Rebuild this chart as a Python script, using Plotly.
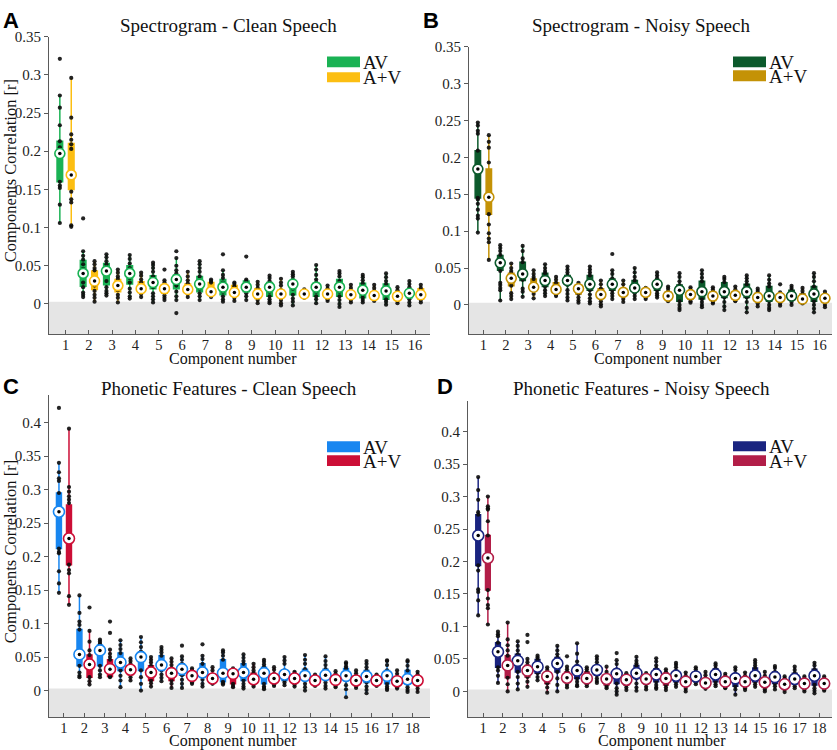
import plotly.graph_objects as go

W, H = 837, 750
SERIF = "Liberation Serif, Times New Roman, serif"
SANS = "Liberation Sans, Arial, sans-serif"
AXC = "#5a5a5a"

# ---------------- categories / tick labels ----------------
comp16 = ["1", "2", "3", "4", "5", "6", "7", "8", "9", "10", "11", "12", "13", "14", "15", "16"]
comp18 = ["1", "2", "3", "4", "5", "6", "7", "8", "9", "10", "11", "12", "13", "14", "15", "16", "17", "18"]
yt_035 = [0, 0.05, 0.1, 0.15, 0.2, 0.25, 0.3, 0.35]
yt_035_lbl = ["0", "0.05", "0.1", "0.15", "0.2", "0.25", "0.3", "0.35"]
yt_040 = [0, 0.05, 0.1, 0.15, 0.2, 0.25, 0.3, 0.35, 0.4]
yt_040_lbl = ["0", "0.05", "0.1", "0.15", "0.2", "0.25", "0.3", "0.35", "0.4"]

# ---------------- Panel A: Spectrogram - Clean Speech ----------------
A_AV_med = [0.197, 0.040, 0.043, 0.040, 0.028, 0.032, 0.026, 0.022, 0.022, 0.022, 0.026, 0.022, 0.022, 0.018, 0.017, 0.014]
A_AV_q1 = [0.160, 0.023, 0.025, 0.026, 0.020, 0.020, 0.016, 0.012, 0.016, 0.010, 0.012, 0.010, 0.010, 0.008, 0.006, 0.008]
A_AV_q3 = [0.213, 0.057, 0.053, 0.050, 0.037, 0.038, 0.036, 0.032, 0.030, 0.028, 0.030, 0.027, 0.032, 0.027, 0.026, 0.017]
A_AV_lo = [0.106, 0.009, 0.011, 0.007, 0.002, 0.005, 0.005, 0.003, 0.005, 0.001, -0.002, 0.001, -0.004, 0.002, -0.001, -0.002]
A_AV_hi = [0.273, 0.069, 0.065, 0.064, 0.054, 0.060, 0.056, 0.044, 0.032, 0.037, 0.042, 0.051, 0.043, 0.038, 0.040, 0.030]
A_AV_dots = [
    [0.321, 0.273, 0.257, 0.234, 0.213, 0.205, 0.160, 0.155, 0.152, 0.130, 0.106],
    [0.112, 0.069, 0.063, 0.058, 0.052, 0.046, 0.028, 0.022, 0.015, 0.012, 0.009],
    [0.065, 0.061, 0.056, 0.052, 0.047, 0.030, 0.022, 0.017, 0.014, 0.011],
    [0.064, 0.059, 0.053, 0.047, 0.034, 0.028, 0.020, 0.015, 0.010, 0.007],
    [0.054, 0.051, 0.047, 0.042, 0.036, 0.022, 0.014, 0.010, 0.006, 0.002],
    [0.069, 0.060, 0.050, 0.044, 0.040, 0.024, 0.016, 0.010, 0.005, -0.012],
    [0.056, 0.052, 0.047, 0.042, 0.036, 0.020, 0.014, 0.010, 0.005],
    [0.065, 0.044, 0.038, 0.034, 0.028, 0.016, 0.010, 0.006, 0.003],
    [0.062, 0.032, 0.030, 0.026, 0.018, 0.014, 0.010, 0.005],
    [0.037, 0.034, 0.030, 0.028, 0.016, 0.010, 0.006, 0.003, 0.001],
    [0.042, 0.039, 0.036, 0.032, 0.020, 0.012, 0.007, 0.003, -0.002],
    [0.051, 0.045, 0.038, 0.032, 0.028, 0.016, 0.010, 0.006, 0.001],
    [0.043, 0.040, 0.036, 0.030, 0.016, 0.010, 0.005, 0.000, -0.004],
    [0.038, 0.035, 0.031, 0.027, 0.012, 0.008, 0.005, 0.002],
    [0.040, 0.035, 0.030, 0.026, 0.012, 0.006, 0.003, -0.001],
    [0.030, 0.026, 0.022, 0.017, 0.010, 0.006, 0.002, -0.002],
]
A_AplusV_med = [0.169, 0.030, 0.024, 0.020, 0.020, 0.019, 0.016, 0.015, 0.013, 0.013, 0.013, 0.013, 0.012, 0.011, 0.010, 0.012]
A_AplusV_q1 = [0.150, 0.019, 0.016, 0.015, 0.014, 0.015, 0.014, 0.011, 0.007, 0.009, 0.010, 0.009, 0.008, 0.008, 0.007, 0.006]
A_AplusV_q3 = [0.210, 0.043, 0.032, 0.029, 0.025, 0.026, 0.028, 0.024, 0.020, 0.018, 0.016, 0.016, 0.016, 0.016, 0.014, 0.020]
A_AplusV_lo = [0.101, 0.003, 0.002, 0.009, 0.005, 0.009, 0.009, 0.004, 0.001, -0.002, 0.008, 0.004, 0.002, 0.004, 0.001, 0.002]
A_AplusV_hi = [0.296, 0.056, 0.045, 0.041, 0.031, 0.042, 0.032, 0.028, 0.029, 0.033, 0.019, 0.024, 0.025, 0.025, 0.022, 0.025]
A_AplusV_dots = [
    [0.296, 0.244, 0.222, 0.215, 0.209, 0.203, 0.147, 0.137, 0.133, 0.103, 0.101],
    [0.056, 0.052, 0.047, 0.044, 0.024, 0.017, 0.012, 0.008, 0.003],
    [0.045, 0.041, 0.036, 0.033, 0.018, 0.012, 0.008, 0.002],
    [0.041, 0.037, 0.032, 0.028, 0.016, 0.013, 0.009],
    [0.045, 0.031, 0.028, 0.025, 0.015, 0.011, 0.008, 0.005],
    [0.042, 0.036, 0.031, 0.027, 0.016, 0.013, 0.009],
    [0.032, 0.030, 0.028, 0.014, 0.012, 0.009],
    [0.028, 0.026, 0.023, 0.012, 0.008, 0.004],
    [0.029, 0.025, 0.021, 0.008, 0.005, 0.001],
    [0.033, 0.028, 0.024, 0.018, 0.009, 0.005, 0.001, -0.002],
    [0.019, 0.017, 0.015, 0.011, 0.008],
    [0.024, 0.020, 0.017, 0.009, 0.006, 0.004],
    [0.025, 0.021, 0.017, 0.008, 0.005, 0.002],
    [0.025, 0.021, 0.017, 0.008, 0.006, 0.004],
    [0.022, 0.018, 0.015, 0.007, 0.004, 0.001],
    [0.025, 0.021, 0.017, 0.008, 0.005, 0.002],
]

# ---------------- Panel B: Spectrogram - Noisy Speech ----------------
B_AV_med = [0.184, 0.057, 0.042, 0.033, 0.033, 0.028, 0.028, 0.023, 0.028, 0.020, 0.018, 0.018, 0.018, 0.012, 0.012, 0.015]
B_AV_q1 = [0.145, 0.047, 0.033, 0.025, 0.028, 0.020, 0.020, 0.020, 0.020, 0.005, 0.008, 0.010, 0.010, 0.005, 0.008, 0.005]
B_AV_q3 = [0.209, 0.067, 0.058, 0.043, 0.040, 0.040, 0.035, 0.033, 0.032, 0.027, 0.032, 0.030, 0.028, 0.025, 0.020, 0.025]
B_AV_lo = [0.098, 0.006, 0.011, 0.012, 0.006, 0.002, 0.008, 0.008, 0.010, -0.007, -0.003, -0.007, -0.010, -0.007, 0.000, -0.010]
B_AV_hi = [0.247, 0.081, 0.080, 0.055, 0.052, 0.052, 0.047, 0.050, 0.044, 0.043, 0.047, 0.038, 0.040, 0.040, 0.026, 0.043]
B_AV_dots = [
    [0.247, 0.243, 0.236, 0.232, 0.209, 0.145, 0.143, 0.137, 0.129, 0.121, 0.117, 0.098],
    [0.081, 0.077, 0.073, 0.068, 0.046, 0.030, 0.027, 0.023, 0.020, 0.006],
    [0.080, 0.073, 0.063, 0.058, 0.034, 0.022, 0.018, 0.011],
    [0.055, 0.050, 0.046, 0.043, 0.025, 0.020, 0.016, 0.012],
    [0.052, 0.048, 0.044, 0.040, 0.027, 0.020, 0.015, 0.010, 0.006],
    [0.052, 0.048, 0.044, 0.040, 0.020, 0.014, 0.009, 0.005, 0.002],
    [0.069, 0.047, 0.042, 0.036, 0.020, 0.016, 0.012, 0.008],
    [0.050, 0.044, 0.038, 0.033, 0.020, 0.016, 0.012, 0.008],
    [0.044, 0.040, 0.036, 0.032, 0.020, 0.016, 0.013, 0.010],
    [0.043, 0.038, 0.032, 0.027, 0.005, 0.000, -0.004, -0.007],
    [0.047, 0.042, 0.037, 0.032, 0.008, 0.004, 0.000, -0.003],
    [0.038, 0.035, 0.031, 0.010, 0.004, -0.002, -0.007],
    [0.040, 0.036, 0.032, 0.028, 0.010, 0.004, -0.004, -0.010],
    [0.040, 0.034, 0.029, 0.025, 0.005, 0.000, -0.004, -0.007],
    [0.026, 0.023, 0.020, 0.008, 0.004, 0.000],
    [0.043, 0.038, 0.032, 0.025, 0.005, 0.000, -0.005, -0.010],
]
B_AplusV_med = [0.146, 0.036, 0.024, 0.021, 0.022, 0.014, 0.017, 0.017, 0.012, 0.014, 0.012, 0.013, 0.010, 0.010, 0.008, 0.009]
B_AplusV_q1 = [0.123, 0.026, 0.020, 0.017, 0.015, 0.010, 0.012, 0.012, 0.008, 0.008, 0.006, 0.008, 0.006, 0.006, 0.005, 0.004]
B_AplusV_q3 = [0.184, 0.043, 0.035, 0.030, 0.027, 0.022, 0.022, 0.021, 0.018, 0.018, 0.018, 0.018, 0.016, 0.014, 0.015, 0.013]
B_AplusV_lo = [0.061, 0.008, 0.009, 0.012, 0.003, -0.002, 0.004, 0.008, 0.005, 0.003, 0.002, 0.005, -0.002, -0.001, 0.002, -0.003]
B_AplusV_hi = [0.230, 0.056, 0.047, 0.038, 0.030, 0.033, 0.033, 0.023, 0.025, 0.024, 0.024, 0.025, 0.022, 0.017, 0.023, 0.018]
B_AplusV_dots = [
    [0.230, 0.221, 0.213, 0.193, 0.123, 0.109, 0.097, 0.090, 0.085, 0.061],
    [0.056, 0.050, 0.046, 0.043, 0.026, 0.016, 0.012, 0.008],
    [0.047, 0.042, 0.038, 0.035, 0.020, 0.015, 0.009],
    [0.038, 0.034, 0.030, 0.017, 0.014, 0.012],
    [0.030, 0.027, 0.015, 0.010, 0.006, 0.003],
    [0.033, 0.028, 0.022, 0.010, 0.005, 0.001, -0.002],
    [0.033, 0.028, 0.022, 0.012, 0.008, 0.004],
    [0.023, 0.021, 0.012, 0.010, 0.008],
    [0.025, 0.022, 0.018, 0.008, 0.006, 0.005],
    [0.024, 0.021, 0.018, 0.008, 0.005, 0.003],
    [0.024, 0.021, 0.018, 0.006, 0.004, 0.002],
    [0.025, 0.021, 0.018, 0.008, 0.006, 0.005],
    [0.022, 0.019, 0.016, 0.006, 0.002, -0.002],
    [0.028, 0.017, 0.014, 0.006, 0.002, -0.001],
    [0.023, 0.019, 0.015, 0.005, 0.003, 0.002],
    [0.018, 0.015, 0.013, 0.004, 0.000, -0.003],
]

# ---------------- Panel C: Phonetic Features - Clean Speech ----------------
C_AV_med = [0.267, 0.054, 0.060, 0.042, 0.050, 0.038, 0.032, 0.027, 0.026, 0.027, 0.026, 0.024, 0.022, 0.023, 0.022, 0.021, 0.022, 0.017]
C_AV_q1 = [0.212, 0.037, 0.037, 0.030, 0.030, 0.030, 0.023, 0.022, 0.013, 0.015, 0.010, 0.015, 0.015, 0.017, 0.015, 0.012, 0.010, 0.010]
C_AV_q3 = [0.295, 0.091, 0.068, 0.056, 0.058, 0.052, 0.040, 0.040, 0.046, 0.040, 0.035, 0.030, 0.032, 0.032, 0.033, 0.030, 0.030, 0.030]
C_AV_lo = [0.146, 0.020, 0.020, 0.005, 0.000, 0.014, 0.004, 0.006, 0.009, 0.003, 0.002, 0.008, 0.000, 0.003, -0.010, -0.004, 0.001, -0.002]
C_AV_hi = [0.340, 0.142, 0.076, 0.075, 0.080, 0.065, 0.051, 0.052, 0.060, 0.054, 0.046, 0.050, 0.053, 0.051, 0.042, 0.044, 0.045, 0.045]
C_AV_dots = [
    [0.422, 0.340, 0.326, 0.317, 0.313, 0.295, 0.212, 0.207, 0.205, 0.178, 0.160, 0.146],
    [0.142, 0.116, 0.103, 0.098, 0.091, 0.037, 0.027, 0.022, 0.020],
    [0.076, 0.073, 0.070, 0.068, 0.037, 0.030, 0.024, 0.020],
    [0.075, 0.068, 0.062, 0.056, 0.030, 0.022, 0.015, 0.005],
    [0.080, 0.072, 0.065, 0.058, 0.030, 0.020, 0.010, 0.000],
    [0.065, 0.061, 0.057, 0.052, 0.030, 0.024, 0.019, 0.014],
    [0.067, 0.051, 0.046, 0.040, 0.023, 0.016, 0.010, 0.004],
    [0.069, 0.052, 0.047, 0.040, 0.022, 0.016, 0.010, 0.006],
    [0.060, 0.057, 0.052, 0.046, 0.013, 0.011, 0.009],
    [0.054, 0.049, 0.044, 0.040, 0.015, 0.010, 0.006, 0.003],
    [0.046, 0.043, 0.039, 0.035, 0.010, 0.006, 0.004, 0.002],
    [0.050, 0.045, 0.040, 0.030, 0.015, 0.012, 0.008],
    [0.053, 0.046, 0.040, 0.032, 0.015, 0.010, 0.005, 0.000],
    [0.051, 0.044, 0.038, 0.032, 0.017, 0.012, 0.007, 0.003],
    [0.042, 0.040, 0.036, 0.033, 0.015, 0.008, 0.002, -0.010],
    [0.044, 0.040, 0.035, 0.030, 0.012, 0.006, 0.001, -0.004],
    [0.045, 0.044, 0.038, 0.030, 0.010, 0.006, 0.003, 0.001],
    [0.045, 0.043, 0.037, 0.030, 0.010, 0.005, 0.001, -0.002],
]
C_AplusV_med = [0.227, 0.039, 0.032, 0.031, 0.027, 0.026, 0.022, 0.018, 0.025, 0.017, 0.018, 0.018, 0.015, 0.016, 0.015, 0.015, 0.014, 0.015]
C_AplusV_q1 = [0.188, 0.020, 0.021, 0.024, 0.015, 0.015, 0.015, 0.012, 0.010, 0.012, 0.012, 0.012, 0.010, 0.010, 0.010, 0.010, 0.008, 0.008]
C_AplusV_q3 = [0.277, 0.053, 0.046, 0.035, 0.037, 0.033, 0.025, 0.024, 0.026, 0.026, 0.025, 0.024, 0.020, 0.022, 0.022, 0.020, 0.020, 0.020]
C_AplusV_lo = [0.128, 0.009, 0.020, 0.015, 0.006, 0.004, 0.010, 0.010, 0.005, 0.006, 0.007, 0.006, 0.007, 0.005, 0.004, 0.007, 0.003, -0.002]
C_AplusV_hi = [0.391, 0.089, 0.061, 0.048, 0.050, 0.048, 0.033, 0.035, 0.033, 0.040, 0.035, 0.028, 0.024, 0.029, 0.030, 0.024, 0.030, 0.028]
C_AplusV_dots = [
    [0.391, 0.304, 0.297, 0.290, 0.285, 0.280, 0.188, 0.180, 0.175, 0.141, 0.128],
    [0.124, 0.089, 0.073, 0.060, 0.053, 0.020, 0.014, 0.009],
    [0.103, 0.086, 0.061, 0.055, 0.050, 0.046, 0.021, 0.020],
    [0.048, 0.044, 0.040, 0.035, 0.024, 0.020, 0.015],
    [0.050, 0.046, 0.042, 0.037, 0.015, 0.011, 0.006],
    [0.048, 0.043, 0.038, 0.033, 0.015, 0.010, 0.004],
    [0.033, 0.030, 0.025, 0.015, 0.012, 0.010],
    [0.035, 0.030, 0.024, 0.012, 0.010],
    [0.033, 0.030, 0.026, 0.010, 0.007, 0.005],
    [0.040, 0.035, 0.030, 0.026, 0.012, 0.009, 0.006],
    [0.035, 0.031, 0.025, 0.012, 0.009, 0.007],
    [0.028, 0.026, 0.024, 0.012, 0.009, 0.006],
    [0.024, 0.022, 0.020, 0.010, 0.007],
    [0.029, 0.025, 0.022, 0.010, 0.007, 0.005],
    [0.030, 0.026, 0.022, 0.010, 0.007, 0.004],
    [0.024, 0.022, 0.020, 0.010, 0.007],
    [0.030, 0.025, 0.020, 0.008, 0.005, 0.003],
    [0.028, 0.024, 0.020, 0.008, 0.003, -0.002],
]

# ---------------- Panel D: Phonetic Features - Noisy Speech ----------------
D_AV_med = [0.240, 0.061, 0.047, 0.038, 0.043, 0.032, 0.033, 0.027, 0.028, 0.026, 0.024, 0.023, 0.026, 0.020, 0.024, 0.022, 0.019, 0.024]
D_AV_q1 = [0.194, 0.037, 0.030, 0.028, 0.030, 0.020, 0.025, 0.012, 0.020, 0.015, 0.015, 0.018, 0.015, 0.008, 0.015, 0.012, 0.012, 0.010]
D_AV_q3 = [0.272, 0.075, 0.057, 0.049, 0.052, 0.040, 0.040, 0.034, 0.040, 0.035, 0.032, 0.030, 0.035, 0.027, 0.036, 0.030, 0.028, 0.034]
D_AV_lo = [0.117, 0.013, 0.003, 0.017, 0.000, 0.008, 0.013, -0.005, 0.001, 0.004, 0.007, 0.011, 0.008, -0.005, 0.007, 0.003, 0.005, -0.003]
D_AV_hi = [0.330, 0.092, 0.077, 0.055, 0.070, 0.074, 0.054, 0.048, 0.053, 0.051, 0.044, 0.037, 0.043, 0.037, 0.048, 0.039, 0.038, 0.044]
D_AV_dots = [
    [0.330, 0.310, 0.295, 0.276, 0.272, 0.194, 0.186, 0.157, 0.153, 0.140, 0.117],
    [0.092, 0.088, 0.085, 0.075, 0.037, 0.032, 0.024, 0.013],
    [0.077, 0.070, 0.063, 0.057, 0.030, 0.022, 0.012, 0.003],
    [0.055, 0.052, 0.049, 0.028, 0.022, 0.017],
    [0.070, 0.063, 0.057, 0.052, 0.030, 0.020, 0.010, 0.000],
    [0.074, 0.058, 0.046, 0.040, 0.020, 0.015, 0.010, 0.008],
    [0.054, 0.050, 0.045, 0.040, 0.025, 0.020, 0.016, 0.013],
    [0.059, 0.048, 0.042, 0.034, 0.012, 0.005, 0.000, -0.005],
    [0.053, 0.047, 0.043, 0.040, 0.020, 0.012, 0.006, 0.001],
    [0.051, 0.046, 0.040, 0.035, 0.015, 0.010, 0.006, 0.004],
    [0.044, 0.041, 0.037, 0.032, 0.015, 0.011, 0.007],
    [0.037, 0.034, 0.030, 0.018, 0.014, 0.011],
    [0.043, 0.040, 0.035, 0.015, 0.011, 0.008],
    [0.037, 0.033, 0.027, 0.008, 0.003, -0.005],
    [0.048, 0.044, 0.040, 0.036, 0.015, 0.011, 0.007],
    [0.039, 0.036, 0.030, 0.012, 0.008, 0.003],
    [0.038, 0.033, 0.028, 0.012, 0.008, 0.005],
    [0.044, 0.040, 0.034, 0.010, 0.005, 0.001, -0.003],
]
D_AplusV_med = [0.2055, 0.040, 0.032, 0.023, 0.021, 0.020, 0.019, 0.018, 0.019, 0.020, 0.015, 0.013, 0.015, 0.015, 0.014, 0.011, 0.012, 0.012]
D_AplusV_q1 = [0.156, 0.021, 0.022, 0.012, 0.015, 0.015, 0.010, 0.010, 0.012, 0.010, 0.008, 0.008, 0.008, 0.008, 0.006, 0.006, 0.006, 0.005]
D_AplusV_q3 = [0.240, 0.055, 0.040, 0.028, 0.030, 0.030, 0.025, 0.022, 0.024, 0.028, 0.020, 0.020, 0.020, 0.020, 0.018, 0.018, 0.016, 0.016]
D_AplusV_lo = [0.103, 0.000, 0.007, -0.002, 0.006, 0.008, 0.005, 0.002, 0.003, 0.002, 0.000, 0.004, 0.005, 0.002, 0.000, -0.001, 0.000, 0.001]
D_AplusV_hi = [0.300, 0.106, 0.050, 0.037, 0.038, 0.037, 0.038, 0.028, 0.028, 0.034, 0.029, 0.030, 0.027, 0.029, 0.030, 0.023, 0.023, 0.023]
D_AplusV_dots = [
    [0.300, 0.285, 0.282, 0.280, 0.262, 0.240, 0.156, 0.143, 0.133, 0.128, 0.103],
    [0.106, 0.080, 0.071, 0.063, 0.055, 0.021, 0.011, 0.000],
    [0.087, 0.076, 0.050, 0.045, 0.040, 0.022, 0.015, 0.007],
    [0.037, 0.033, 0.028, 0.012, 0.006, -0.002],
    [0.054, 0.038, 0.034, 0.030, 0.015, 0.010, 0.006],
    [0.037, 0.034, 0.030, 0.015, 0.011, 0.008],
    [0.038, 0.030, 0.025, 0.010, 0.007, 0.005],
    [0.028, 0.025, 0.022, 0.010, 0.006, 0.002],
    [0.028, 0.026, 0.024, 0.012, 0.007, 0.003],
    [0.034, 0.030, 0.028, 0.010, 0.006, 0.002],
    [0.029, 0.024, 0.020, 0.008, 0.004, 0.000],
    [0.030, 0.025, 0.020, 0.008, 0.006, 0.004],
    [0.027, 0.024, 0.020, 0.008, 0.006, 0.005],
    [0.029, 0.024, 0.020, 0.008, 0.005, 0.002],
    [0.030, 0.024, 0.018, 0.006, 0.003, 0.000],
    [0.023, 0.020, 0.018, 0.006, 0.003, -0.001],
    [0.023, 0.020, 0.016, 0.006, 0.003, 0.000],
    [0.023, 0.020, 0.016, 0.005, 0.003, 0.001],
]

series_names = ["AV", "A+V"]

panels = [
    dict(letter="A", title="Spectrogram - Clean Speech", cats=comp16,
         av=(A_AV_q1, A_AV_med, A_AV_q3, A_AV_lo, A_AV_hi, A_AV_dots),
         apv=(A_AplusV_q1, A_AplusV_med, A_AplusV_q3, A_AplusV_lo, A_AplusV_hi, A_AplusV_dots),
         colors=("rgb(26,178,84)", "rgb(252,190,18)"),
         px=(49, 430, 29, 330), xr=[0.29, 16.64], yr=[-0.04, 0.35], yt=(yt_035, yt_035_lbl),
         letter_pos=(11, 12.5), title_pos=(228, 18), xt_pos=(233, 355), yt_pos=(10, 165),
         leg=(327, 360, 49, 60, 65, 75), msize=10),
    dict(letter="B", title="Spectrogram - Noisy Speech", cats=comp16,
         av=(B_AV_q1, B_AV_med, B_AV_q3, B_AV_lo, B_AV_hi, B_AV_dots),
         apv=(B_AplusV_q1, B_AplusV_med, B_AplusV_q3, B_AplusV_lo, B_AplusV_hi, B_AplusV_dots),
         colors=("rgb(12,90,44)", "rgb(196,146,6)"),
         px=(469, 832, 39, 330), xr=[0.36, 16.56], yr=[-0.04, 0.35], yt=(yt_035, yt_035_lbl),
         letter_pos=(431.5, 12.5), title_pos=(641, 18), xt_pos=(658, 355), yt_pos=None,
         leg=(733, 766, 49, 60, 63, 74), msize=10),
    dict(letter="C", title="Phonetic Features - Clean Speech", cats=comp18,
         av=(C_AV_q1, C_AV_med, C_AV_q3, C_AV_lo, C_AV_hi, C_AV_dots),
         apv=(C_AplusV_q1, C_AplusV_med, C_AplusV_q3, C_AplusV_lo, C_AplusV_hi, C_AplusV_dots),
         colors=("rgb(24,134,240)", "rgb(204,14,54)"),
         px=(49, 430, 391, 717), xr=[0.27, 18.85], yr=[-0.04, 0.4416], yt=(yt_040, yt_040_lbl),
         letter_pos=(11, 382.5), title_pos=(228.5, 385), xt_pos=(233, 741), yt_pos=(10, 550),
         leg=(327, 360, 438, 449, 452, 463), msize=11),
    dict(letter="D", title="Phonetic Features - Noisy Speech", cats=comp18,
         av=(D_AV_q1, D_AV_med, D_AV_q3, D_AV_lo, D_AV_hi, D_AV_dots),
         apv=(D_AplusV_q1, D_AplusV_med, D_AplusV_q3, D_AplusV_lo, D_AplusV_hi, D_AplusV_dots),
         colors=("rgb(26,36,128)", "rgb(178,30,72)"),
         px=(468, 832, 397, 717), xr=[0.24, 18.64], yr=[-0.04, 0.4475], yt=(yt_040, yt_040_lbl),
         letter_pos=(445, 382.5), title_pos=(641, 385), xt_pos=(662, 741), yt_pos=None,
         leg=(733, 766, 438, 448, 452, 463), msize=11),
]


def pxx(v):
    return v / W


def pxy(v):
    return 1 - v / H


fig = go.Figure()
layout = dict(width=W, height=H, margin=dict(l=0, r=0, t=0, b=0),
              paper_bgcolor="white", plot_bgcolor="rgba(0,0,0,0)",
              showlegend=False, shapes=[], annotations=[])

OFF = 0.245
for i, p in enumerate(panels):
    n = i + 1
    sfx = "" if n == 1 else str(n)
    xref, yref = "x" + sfx, "y" + sfx
    x0, x1, y0, y1 = p["px"]
    comps = [int(c) for c in p["cats"]]

    layout["xaxis" + sfx] = dict(
        domain=[pxx(x0), pxx(x1)], range=p["xr"], anchor=yref,
        tickmode="array", tickvals=comps, ticktext=p["cats"],
        ticks="inside", ticklen=4, tickcolor=AXC, showline=True, linecolor=AXC, linewidth=1,
        showgrid=False, zeroline=False, fixedrange=True, ticklabelstandoff=-3,
        tickfont=dict(family=SERIF, size=14.5, color="#222"))
    layout["yaxis" + sfx] = dict(
        domain=[pxy(y1), pxy(y0)], range=p["yr"], anchor=xref,
        tickmode="array", tickvals=p["yt"][0], ticktext=p["yt"][1],
        ticks="outside", ticklen=4, tickcolor=AXC, showline=True, linecolor=AXC, linewidth=1,
        showgrid=False, zeroline=False, fixedrange=True,
        tickfont=dict(family=SERIF, size=15, color="#222"))

    # grey band below zero
    layout["shapes"].append(dict(type="rect", xref=xref + " domain", yref=yref,
                                 x0=0, x1=1, y0=p["yr"][0], y1=0.003,
                                 fillcolor="#e5e5e5", line=dict(width=0), layer="below"))

    for s, (stats, col, off) in enumerate(((p["av"], p["colors"][0], -OFF), (p["apv"], p["colors"][1], OFF))):
        q1, med, q3, lo, hi, dots = stats
        xs = [c + off for c in comps]
        fig.add_trace(go.Box(x=xs, q1=q1, median=med, q3=q3, lowerfence=lo, upperfence=hi,
                             width=0.24, whiskerwidth=0, boxpoints=False,
                             fillcolor=col, line=dict(color=col, width=1.5),
                             xaxis=xref, yaxis=yref, hoverinfo="skip", name=series_names[s]))
        dx, dy = [], []
        for c, dl in zip(xs, dots):
            dx += [c] * len(dl)
            dy += dl
        fig.add_trace(go.Scatter(x=dx, y=dy, mode="markers",
                                 marker=dict(size=4.2, color="rgba(12,12,12,0.9)"),
                                 xaxis=xref, yaxis=yref, hoverinfo="skip"))
        fig.add_trace(go.Scatter(x=xs, y=med, mode="markers",
                                 marker=dict(size=p["msize"], color="white", line=dict(color=col, width=1.6)),
                                 xaxis=xref, yaxis=yref, hoverinfo="skip"))
        fig.add_trace(go.Scatter(x=xs, y=med, mode="markers",
                                 marker=dict(size=3.5, color="black"),
                                 xaxis=xref, yaxis=yref, hoverinfo="skip"))

    # annotations
    lx, ly = p["letter_pos"]
    layout["annotations"].append(dict(text="<b>%s</b>" % p["letter"], x=pxx(lx), y=pxy(ly), xref="paper", yref="paper",
                                      xanchor="center", yanchor="middle", showarrow=False,
                                      font=dict(family=SANS, size=22, color="black")))
    tx, ty = p["title_pos"]
    layout["annotations"].append(dict(text=p["title"], x=pxx(tx), y=pxy(ty), xref="paper", yref="paper",
                                      xanchor="center", yanchor="middle", showarrow=False,
                                      font=dict(family=SERIF, size=19, color="#111")))
    ax_, ay_ = p["xt_pos"]
    layout["annotations"].append(dict(text="Component number", x=pxx(ax_), y=pxy(ay_), xref="paper", yref="paper",
                                      xanchor="center", yanchor="middle", showarrow=False,
                                      font=dict(family=SERIF, size=16, color="#111")))
    if p["yt_pos"]:
        yx, yy = p["yt_pos"]
        layout["annotations"].append(dict(text="Components Correlation [r]", x=pxx(yx), y=pxy(yy),
                                          xref="paper", yref="paper", textangle=-90,
                                          xanchor="center", yanchor="middle", showarrow=False,
                                          font=dict(family=SERIF, size=16.5, color="#111")))
    # legend
    gx0, gx1, a0, a1, b0, b1 = p["leg"]
    for (r0, r1), col, name in (((a0, a1), p["colors"][0], series_names[0]), ((b0, b1), p["colors"][1], series_names[1])):
        layout["shapes"].append(dict(type="rect", xref="paper", yref="paper",
                                     x0=pxx(gx0), x1=pxx(gx1), y0=pxy(r1), y1=pxy(r0),
                                     fillcolor=col, line=dict(width=0)))
        layout["annotations"].append(dict(text=name, x=pxx(gx1 + 1), y=pxy((r0 + r1) / 2 + 0.5),
                                          xref="paper", yref="paper", xanchor="left", yanchor="middle",
                                          showarrow=False, font=dict(family=SERIF, size=19, color="#111")))

fig.update_layout(**layout)
POST = ("document.documentElement.style.margin='0';document.body.style.margin='0';"
        "document.body.style.overflow='hidden';"
        "var d=document.getElementById('{plot_id}');"
        "d.style.position='fixed';d.style.left='0px';d.style.top='0px';")
fig.write_html("out.html", config={"displayModeBar": False}, post_script=POST)
